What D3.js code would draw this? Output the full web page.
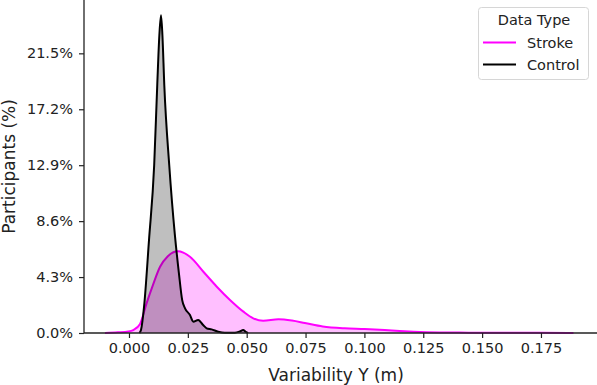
<!DOCTYPE html>
<html>
<head>
    <meta charset="utf-8">
    <style>
        body { margin: 0; background: #fff; }
        svg { display: block; font-family: "DejaVu Sans", sans-serif; }
        .tick text { font-size: 14.5px; fill: #222; }
        .axis-title { font-size: 17px; fill: #222; }
        .legend text { font-size: 14.5px; fill: #222; }
    </style>
    <script src="https://d3js.org/d3.v7.min.js"></script>
</head>
<body>
    <svg id="chart" width="597" height="385"></svg>
    <script>
        // KDE curves: x in metres, y in percent
        var strokeX = [-0.0102, -0.0047, -0.0003, 0.0018, 0.0047, 0.0075, 0.0102, 0.0132, 0.0165, 0.0208,
            0.0259, 0.0316, 0.0373, 0.0429, 0.0486, 0.0528, 0.0570, 0.0635, 0.0692,
            0.0747, 0.0823, 0.0916, 0.1001, 0.1086, 0.1150, 0.1264, 0.1404, 0.1574, 0.1744, 0.1888];
        var strokeY = [0, 0.05, 0.12, 0.23, 0.7, 2.3, 3.7, 5.09, 5.9, 6.28,
            5.86, 4.71, 3.56, 2.54, 1.64, 1.13, 0.94, 1.06, 0.96,
            0.77, 0.50, 0.36, 0.31, 0.23, 0.15, 0.06, 0.03, 0.02, 0.015, 0];

        var controlX = [0.0044, 0.0051, 0.0064, 0.0085, 0.0107, 0.0120, 0.0129, 0.0136, 0.0142, 0.0150,
            0.0171, 0.0195, 0.0212, 0.0226, 0.0238, 0.0259, 0.0273, 0.0294, 0.0315, 0.0330,
            0.0351, 0.0379, 0.0407, 0.0450, 0.0471, 0.0485, 0.0496, 0.0506];
        var controlY = [0, 0.23, 2.02, 7.14, 12.90, 19.05, 22.89, 24.42, 22.89, 19.05,
            12.90, 7.53, 4.61, 2.53, 1.90, 1.38, 0.87, 1.00, 0.61, 0.36,
            0.28, 0.10, 0.02, 0.02, 0.12, 0.23, 0.08, 0];

        var xTicks = [0, 0.025, 0.05, 0.075, 0.1, 0.125, 0.15, 0.175];
        var yTicks = [0, 4.3, 8.6, 12.9, 17.2, 21.5];

        var seriesNames = ["Stroke", "Control"];
        var seriesColors = ["#ff00ff", "#000000"];

        var svg = d3.select("#chart");
        var plotLeft = 84, plotRight = 597, plotTop = 0, plotBottom = 333;

        var x = d3.scaleLinear().domain([-0.01911, 0.1988]).range([plotLeft, plotRight]);
        var y = d3.scaleLinear().domain([0, 25.6]).range([plotBottom, plotTop]);

        function pts(xs, ys) {
            return xs.map(function (d, i) { return [d, ys[i]]; });
        }

        var area = d3.area()
            .x(function (d) { return x(d[0]); })
            .y0(y(0))
            .y1(function (d) { return y(d[1]); })
            .curve(d3.curveMonotoneX);

        var line = d3.line()
            .x(function (d) { return x(d[0]); })
            .y(function (d) { return y(d[1]); })
            .curve(d3.curveMonotoneX);

        var series = [pts(strokeX, strokeY), pts(controlX, controlY)];

        series.forEach(function (data, i) {
            svg.append("path")
                .datum(data)
                .attr("d", area)
                .attr("fill", seriesColors[i])
                .attr("fill-opacity", 0.25);
            svg.append("path")
                .datum(data)
                .attr("d", line)
                .attr("fill", "none")
                .attr("stroke", seriesColors[i])
                .attr("stroke-width", 2)
                .attr("stroke-linejoin", "round");
        });

        // axes
        var xAxis = svg.append("g")
            .attr("transform", "translate(0," + plotBottom + ")")
            .call(d3.axisBottom(x).tickValues(xTicks).tickFormat(d3.format(".3f")).tickSize(5).tickPadding(5));
        var yAxis = svg.append("g")
            .attr("transform", "translate(" + plotLeft + ",0)")
            .call(d3.axisLeft(y).tickValues(yTicks).tickFormat(function (d) { return d.toFixed(1) + "%"; }).tickSize(5).tickPadding(6));

        [xAxis, yAxis].forEach(function (g) {
            g.select(".domain").attr("stroke", "#222").attr("stroke-width", 1.3);
            g.selectAll(".tick line").attr("stroke", "#222").attr("stroke-width", 1.2);
            g.selectAll(".tick text").style("font-family", "DejaVu Sans");
        });
        xAxis.select(".domain").attr("d", "M" + plotLeft + ",0H" + plotRight);
        yAxis.select(".domain").attr("d", "M0," + plotTop + "V" + plotBottom);

        svg.append("text")
            .attr("class", "axis-title")
            .attr("x", 336).attr("y", 381)
            .attr("text-anchor", "middle")
            .text("Variability Y (m)");

        svg.append("text")
            .attr("class", "axis-title")
            .attr("transform", "translate(15," + (plotBottom / 2) + ") rotate(-90)")
            .attr("text-anchor", "middle")
            .text("Participants (%)");

        // legend
        var lg = svg.append("g").attr("class", "legend");
        lg.append("rect")
            .attr("x", 478.5).attr("y", 7.5)
            .attr("width", 110).attr("height", 72)
            .attr("rx", 3)
            .attr("fill", "#fff").attr("fill-opacity", 0.8)
            .attr("stroke", "#d6d6d6");
        lg.append("text")
            .attr("x", 534).attr("y", 25)
            .attr("text-anchor", "middle")
            .text("Data Type");
        seriesNames.forEach(function (name, i) {
            var yy = 42.5 + i * 22;
            lg.append("line")
                .attr("x1", 483).attr("x2", 516)
                .attr("y1", yy).attr("y2", yy)
                .attr("stroke", seriesColors[i]).attr("stroke-width", 2);
            lg.append("text")
                .attr("x", 527).attr("y", yy + 5)
                .text(name);
        });
    </script>
</body>
</html>
